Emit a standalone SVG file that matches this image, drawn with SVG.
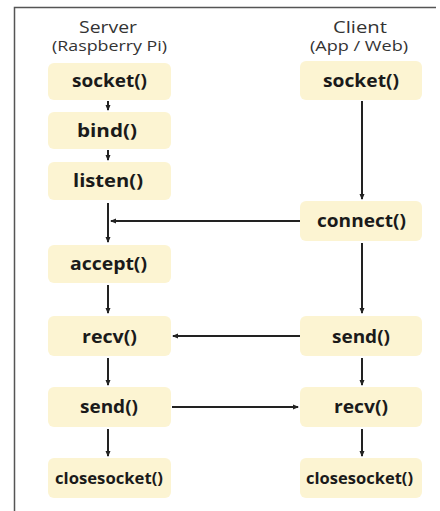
<svg xmlns="http://www.w3.org/2000/svg" width="440" height="511" viewBox="0 0 440 511">
<style>
.box{fill:#fcf4d2;}
.lbl{font-family:"Open Sans",sans-serif;font-weight:bold;font-size:17px;fill:#1a1a1a;text-anchor:middle;}
.sm{font-size:15.5px;}
.hd{font-family:"Open Sans",sans-serif;font-size:17px;fill:#333;text-anchor:middle;}
.sub{font-size:14.5px;}
.ln{stroke:#222;stroke-width:2;fill:none;}
</style>
<defs>
<marker id="ah" markerWidth="6" markerHeight="6" refX="5" refY="3" orient="auto" markerUnits="userSpaceOnUse">
<path d="M0,0.5 L6,3 L0,5.5 z" fill="#222"/>
</marker>
</defs>
<rect x="0" y="0" width="440" height="511" fill="#fff"/>
<path d="M14.5,511 V7.5 H436" stroke="#555" stroke-width="1.5" fill="none"/>
<text class="hd" x="108" y="33" textLength="58" lengthAdjust="spacingAndGlyphs">Server</text>
<text class="hd sub" x="109.5" y="51" textLength="115" lengthAdjust="spacingAndGlyphs">(Raspberry Pi)</text>
<text class="hd" x="360" y="33" textLength="54" lengthAdjust="spacingAndGlyphs">Client</text>
<text class="hd sub" x="359" y="51" textLength="98" lengthAdjust="spacingAndGlyphs">(App / Web)</text>
<g id="s_socket"><rect class="box" x="48" y="63" width="123" height="37" rx="6"/><text class="lbl" x="109.5" y="87" textLength="75" lengthAdjust="spacingAndGlyphs">socket()</text></g>
<g id="s_bind"><rect class="box" x="48" y="112" width="123" height="37" rx="6"/><text class="lbl" x="107" y="137" textLength="60" lengthAdjust="spacingAndGlyphs">bind()</text></g>
<g id="s_listen"><rect class="box" x="48" y="162" width="123" height="38" rx="6"/><text class="lbl" x="108" y="187" textLength="70" lengthAdjust="spacingAndGlyphs">listen()</text></g>
<g id="s_accept"><rect class="box" x="48" y="245" width="123" height="38" rx="6"/><text class="lbl" x="108.5" y="270" textLength="77" lengthAdjust="spacingAndGlyphs">accept()</text></g>
<g id="s_recv"><rect class="box" x="48" y="316" width="123" height="40" rx="6"/><text class="lbl" x="109.5" y="343" textLength="55" lengthAdjust="spacingAndGlyphs">recv()</text></g>
<g id="s_send"><rect class="box" x="48" y="387" width="123" height="40" rx="6"/><text class="lbl" x="109" y="413" textLength="58" lengthAdjust="spacingAndGlyphs">send()</text></g>
<g id="s_close"><rect class="box" x="48" y="458" width="123" height="40" rx="6"/><text class="lbl sm" x="109" y="484" textLength="108" lengthAdjust="spacingAndGlyphs">closesocket()</text></g>
<g id="c_socket"><rect class="box" x="300" y="61" width="122" height="39" rx="6"/><text class="lbl" x="361" y="87" textLength="76" lengthAdjust="spacingAndGlyphs">socket()</text></g>
<g id="c_connect"><rect class="box" x="300" y="201" width="122" height="40" rx="6"/><text class="lbl" x="361.5" y="227" textLength="89" lengthAdjust="spacingAndGlyphs">connect()</text></g>
<g id="c_send"><rect class="box" x="300" y="316" width="122" height="40" rx="6"/><text class="lbl" x="361" y="343" textLength="58" lengthAdjust="spacingAndGlyphs">send()</text></g>
<g id="c_recv"><rect class="box" x="300" y="387" width="122" height="40" rx="6"/><text class="lbl" x="361" y="413" textLength="54" lengthAdjust="spacingAndGlyphs">recv()</text></g>
<g id="c_close"><rect class="box" x="300" y="458" width="122" height="40" rx="6"/><text class="lbl sm" x="359.5" y="484" textLength="107" lengthAdjust="spacingAndGlyphs">closesocket()</text></g>
<g id="connectors">
<path class="ln" d="M108,101 V110" marker-end="url(#ah)"/>
<path class="ln" d="M108,150 V160" marker-end="url(#ah)"/>
<path class="ln" d="M108,203 V242" marker-end="url(#ah)"/>
<path class="ln" d="M300,221 H111" marker-end="url(#ah)"/>
<path class="ln" d="M108,285 V313" marker-end="url(#ah)"/>
<path class="ln" d="M108,358 V385" marker-end="url(#ah)"/>
<path class="ln" d="M108,429 V456" marker-end="url(#ah)"/>
<path class="ln" d="M362,101 V199" marker-end="url(#ah)"/>
<path class="ln" d="M362,243 V313" marker-end="url(#ah)"/>
<path class="ln" d="M362,358 V385" marker-end="url(#ah)"/>
<path class="ln" d="M362,429 V456" marker-end="url(#ah)"/>
<path class="ln" d="M300,336 H173" marker-end="url(#ah)"/>
<path class="ln" d="M172,407 H298" marker-end="url(#ah)"/>
</g>
</svg>
